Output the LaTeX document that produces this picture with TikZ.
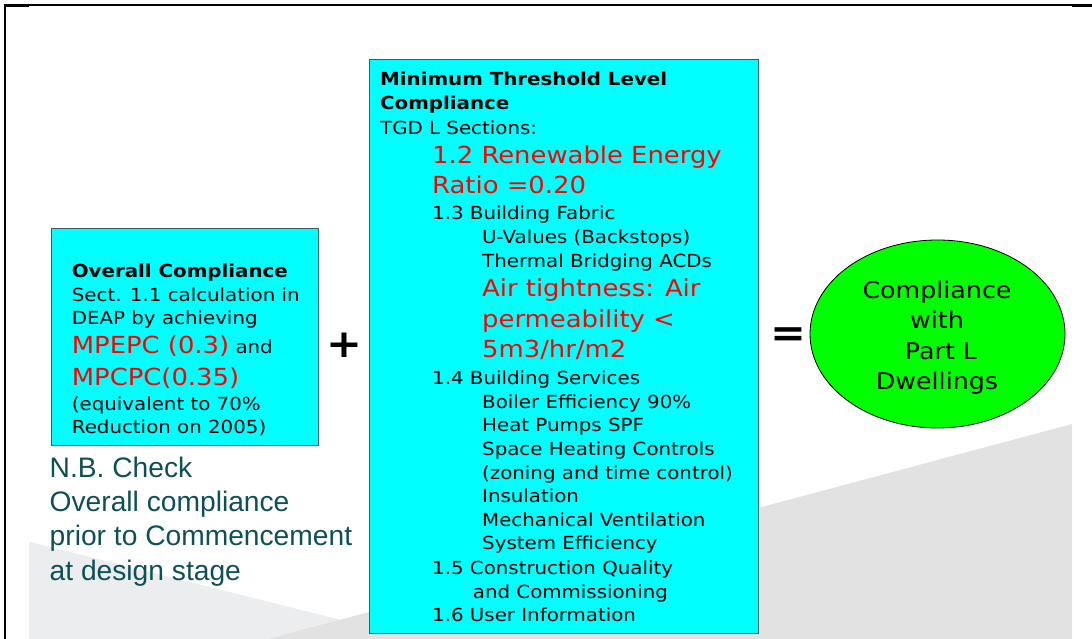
\documentclass[tikz,border=0pt]{standalone}
\usepackage{fontspec}
\setmainfont{DejaVu Sans}[FakeStretch=1.1]
\newfontfamily\nbfont{Liberation Sans}
\usepackage{xcolor}
\usetikzlibrary{positioning,shapes.geometric}
\definecolor{boxcyan}{RGB}{0,255,255}
\definecolor{boxedge}{RGB}{55,95,95}
\definecolor{okgreen}{RGB}{0,255,0}
\definecolor{nbteal}{RGB}{14,80,86}
\definecolor{bgA}{RGB}{236,237,238}
\definecolor{bgB}{RGB}{226,226,226}
\newcommand{\hot}[1]{{\color{red}\fontsize{23.5}{30}\selectfont #1}}
\tikzset{
  cyanbox/.style={draw=boxedge,line width=1.3pt,fill=boxcyan,anchor=north west,inner sep=0pt},
  txt/.style={anchor=base west,inner sep=0pt,font=\fontsize{18}{24}\selectfont},
  txtb/.style={txt,font=\bfseries\fontsize{18}{24}\selectfont},
  nb/.style={anchor=base west,inner sep=0pt,text=nbteal,font=\nbfont\fontsize{28.2}{34}\selectfont},
  sign/.style={anchor=base,inner sep=0pt,font=\bfseries\fontsize{39}{39}\selectfont}
}

\begin{document}
\begin{tikzpicture}[x=1pt,y=-1pt]
\useasboundingbox (0,0) rectangle (1092,639);
% background
\fill[bgA] (29,541.7) -- (369,627) -- (369,639) -- (29,639) -- cycle;
\fill[bgB] (268,639) -- (1072,424) -- (1072,639) -- cycle;
\draw[line width=1.6pt] (5,639) -- (5,5.3) -- (1090,5.3);
\draw[line width=2.6pt] (5,5.8) -- (29,5.8);
\draw[line width=2.6pt] (1072,5.8) -- (1092,5.8);
%
\node (overall) [cyanbox,minimum width=267pt,minimum height=217pt] at (51,228) {};
\node (mtl) [cyanbox,minimum width=389pt,minimum height=574pt] at (369,59) {};
\node (partL) [ellipse,draw=black,line width=0.8pt,fill=okgreen,minimum width=255pt,minimum height=188pt] at (937.5,334) {};
\node (plus) [sign] at (344,357.7) {+};
\node (equals) [sign] at (788,346) {=};
% overall compliance
\node (oc1) [txtb] at (71.7,277.3) {Overall Compliance};
\node (oc2) [txt] at (71.7,301) {Sect. 1.1 calculation in};
\node (oc3) [txt] at (71.7,324.5) {DEAP by achieving};
\node (oc4) [txt] at (71.7,353.3) {\hot{MPEPC (0.3)} and};
\node (oc5) [txt] at (71.7,385) {\hot{MPCPC(0.35)}};
\node (oc6) [txt] at (71.7,410) {(equivalent to 70\%};
\node (oc7) [txt] at (71.7,433.3) {Reduction on 2005)};
%
\node (nb1) [nb] at (49.5,477.5) {N.B. Check};
\node (nb2) [nb] at (49.5,511.7) {Overall compliance};
\node (nb3) [nb] at (49.5,545.9) {prior to Commencement};
\node (nb4) [nb] at (49.5,580.1) {at design stage};
% minimum threshold
\node (mt1) [txtb] at (380,86) {Minimum Threshold Level};
\node (mt2) [txtb] at (380,110) {Compliance};
\node (mt3) [txt] at (380,134.3) {TGD L Sections:};
\node (sec12a) [txt] at (432,163.3) {\hot{1.2 Renewable Energy}};
\node (sec12b) [txt] at (432,194) {\hot{Ratio =0.20}};
\node (sec13) [txt] at (432,220) {1.3 Building Fabric};
\node (fab1) [txt] at (482,243.3) {U-Values (Backstops)};
\node (fab2) [txt] at (482,267.3) {Thermal Bridging ACDs};
\node (fab3) [txt] at (482,296.7) {\hot{Air tightness: Air}};
\node (fab4) [txt] at (482,327.3) {\hot{permeability <}};
\node (fab5) [txt] at (482,357.3) {\hot{5m3/hr/m2}};
\node (sec14) [txt] at (432,384) {1.4 Building Services};
\foreach \t [count=\i] in {Boiler Efficiency 90\%,Heat Pumps SPF,Space Heating Controls,(zoning and time control),Insulation,Mechanical Ventilation,System Efficiency}
  \node (srv\i) [txt] at (482,384.7+23.6*\i) {\t};
\node (sec15a) [txt] at (432,574.3) {1.5 Construction Quality};
\node (sec15b) [txt] at (472.7,598.3) {and Commissioning};
\node (sec16) [txt] at (432,621.7) {1.6 User Information};
% result
\foreach \t [count=\i] in {Compliance,with,{~Part L},Dwellings}
  \node (res\i) [anchor=base,inner sep=0pt,font=\fontsize{23}{30}\selectfont] at (937,268.1+30.4*\i) {\t};
\end{tikzpicture}
\end{document}
